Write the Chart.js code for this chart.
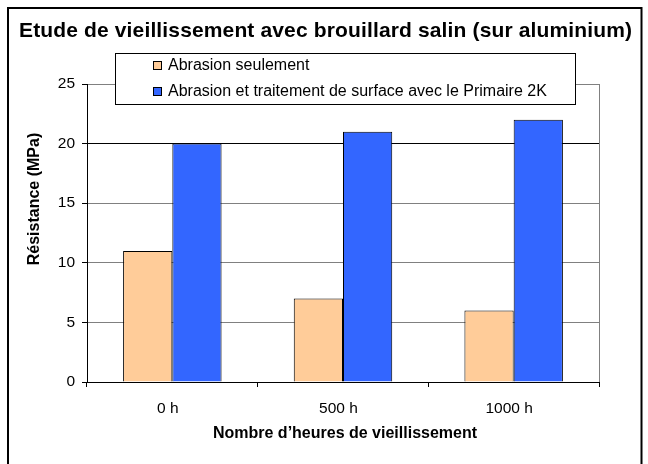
<!DOCTYPE html>
<html><head><meta charset="utf-8">
<script src="https://cdn.jsdelivr.net/npm/chart.js@4/dist/chart.umd.min.js"></script>
<style>html,body{margin:0;padding:0;background:#fff}#wrap{width:648px;height:464px;position:relative}</style>
</head><body><div id="wrap"><canvas id="c" width="648" height="464"></canvas></div>
<script>
const categories = ['0 h', '500 h', '1000 h'];
const seriesNames = ['Abrasion seulement', 'Abrasion et traitement de surface avec le Primaire 2K'];
const abrasionOnly = [11, 7, 6];
const abrasionPrimer = [20, 21, 22];
const yMin = 0, yMax = 25, yStep = 5;
const titleText = 'Etude de vieillissement avec brouillard salin (sur aluminium)';
const xTitleText = 'Nombre d\u2019heures de vieillissement';
const yTitleText = 'Résistance (MPa)';
const colors = ['#FFCC99', '#3366FF'];
const FONT = '"Liberation Sans", Arial, sans-serif';

function drawSpaced(ctx, text, x, y, font, targetW, align) {
  ctx.save();
  ctx.font = font;
  ctx.textBaseline = 'middle';
  ctx.textAlign = 'left';
  const w = ctx.measureText(text).width;
  let sp = 0;
  if (targetW && text.length > 1) sp = (targetW - w) / (text.length - 1);
  const total = w + sp * (text.length - 1);
  let sx = x;
  if (align === 'center') sx = x - total / 2;
  if ('letterSpacing' in ctx) {
    ctx.letterSpacing = sp + 'px';
    ctx.fillText(text, sx, y);
  } else {
    ctx.translate(sx, y);
    ctx.scale(total / w, 1);
    ctx.fillText(text, 0, 0);
  }
  ctx.restore();
}

const decor = {
  id: 'decor',
  beforeDraw(chart) {
    const ctx = chart.ctx;
    ctx.save();
    ctx.fillStyle = '#fff';
    ctx.fillRect(0, 0, chart.width, chart.height);
    ctx.restore();
  },
  afterDraw(chart) {
    const ctx = chart.ctx;
    const a = chart.chartArea;
    ctx.save();
    // plot right border (grey)
    ctx.strokeStyle = '#808080';
    ctx.lineWidth = 1;
    ctx.beginPath();
    ctx.moveTo(Math.round(a.right) + 0.5, a.top);
    ctx.lineTo(Math.round(a.right) + 0.5, a.bottom);
    ctx.stroke();
    // outer border
    ctx.strokeStyle = '#000';
    ctx.lineWidth = 2;
    ctx.strokeRect(8, 8, 633.5, 470);
    ctx.fillStyle = '#000';
    // title
    drawSpaced(ctx, titleText, 325.5, 31, 'bold 21px ' + FONT, 613, 'center');
    // x axis title
    drawSpaced(ctx, xTitleText, 345, 434, 'bold 16px ' + FONT, 0, 'center');
    // y axis title
    ctx.save();
    ctx.translate(35, 199);
    ctx.rotate(-Math.PI / 2);
    drawSpaced(ctx, yTitleText, 0, 0, 'bold 16px ' + FONT, 0, 'center');
    ctx.restore();
    // legend
    ctx.fillStyle = '#fff';
    ctx.fillRect(115.5, 53.5, 460, 51);
    ctx.strokeStyle = '#000';
    ctx.lineWidth = 1;
    ctx.strokeRect(115.5, 53.5, 460, 51);
    const rowsY = [65, 91];
    const lf = '16px ' + FONT;
    chart.data.datasets.forEach((ds, i) => {
      const y = rowsY[i];
      ctx.fillStyle = ds.backgroundColor;
      ctx.fillRect(153.5, y - 3.5, 8, 8);
      ctx.strokeStyle = '#000';
      ctx.strokeRect(153.5, y - 3.5, 8, 8);
      ctx.fillStyle = '#000';
      drawSpaced(ctx, ds.label, 168, y + 1, lf, 0, 'left');
    });
    ctx.restore();
  }
};

new Chart(document.getElementById('c'), {
  type: 'bar',
  data: {
    labels: categories,
    datasets: [
      { label: seriesNames[0], data: abrasionOnly, backgroundColor: colors[0], borderColor: '#000', borderWidth: 1, borderSkipped: 'start' },
      { label: seriesNames[1], data: abrasionPrimer, backgroundColor: colors[1], borderColor: '#000', borderWidth: 1, borderSkipped: 'start' }
    ]
  },
  options: {
    responsive: false,
    animation: false,
    devicePixelRatio: 1,
    layout: { padding: { left: 0, right: 49, top: 84, bottom: 0 } },
    plugins: { legend: { display: false }, title: { display: false }, tooltip: { enabled: false } },
    datasets: { bar: { categoryPercentage: 0.577, barPercentage: 1.0 } },
    scales: {
      x: {
        afterFit(s) { s.height = 82; },
        grid: { drawOnChartArea: false, drawTicks: true, tickLength: 5, color: '#000', offset: true },
        border: { display: true, color: '#000', width: 1 },
        ticks: { color: '#000', font: { family: FONT, size: 15.5 }, padding: 12, labelOffset: -4.5 }
      },
      y: {
        min: yMin, max: yMax,
        afterFit(s) { s.width = 87; },
        grid: {
          color: (c) => (c.tick && (c.tick.value === 20 || c.tick.value === 0)) ? '#000' : '#808080',
          tickColor: '#000', tickLength: 5, drawTicks: true
        },
        border: { display: true, color: '#000', width: 1 },
        ticks: { stepSize: yStep, color: '#000', font: { family: FONT, size: 15.5 }, padding: 7 }
      }
    }
  },
  plugins: [decor]
});
</script>
</body></html>
